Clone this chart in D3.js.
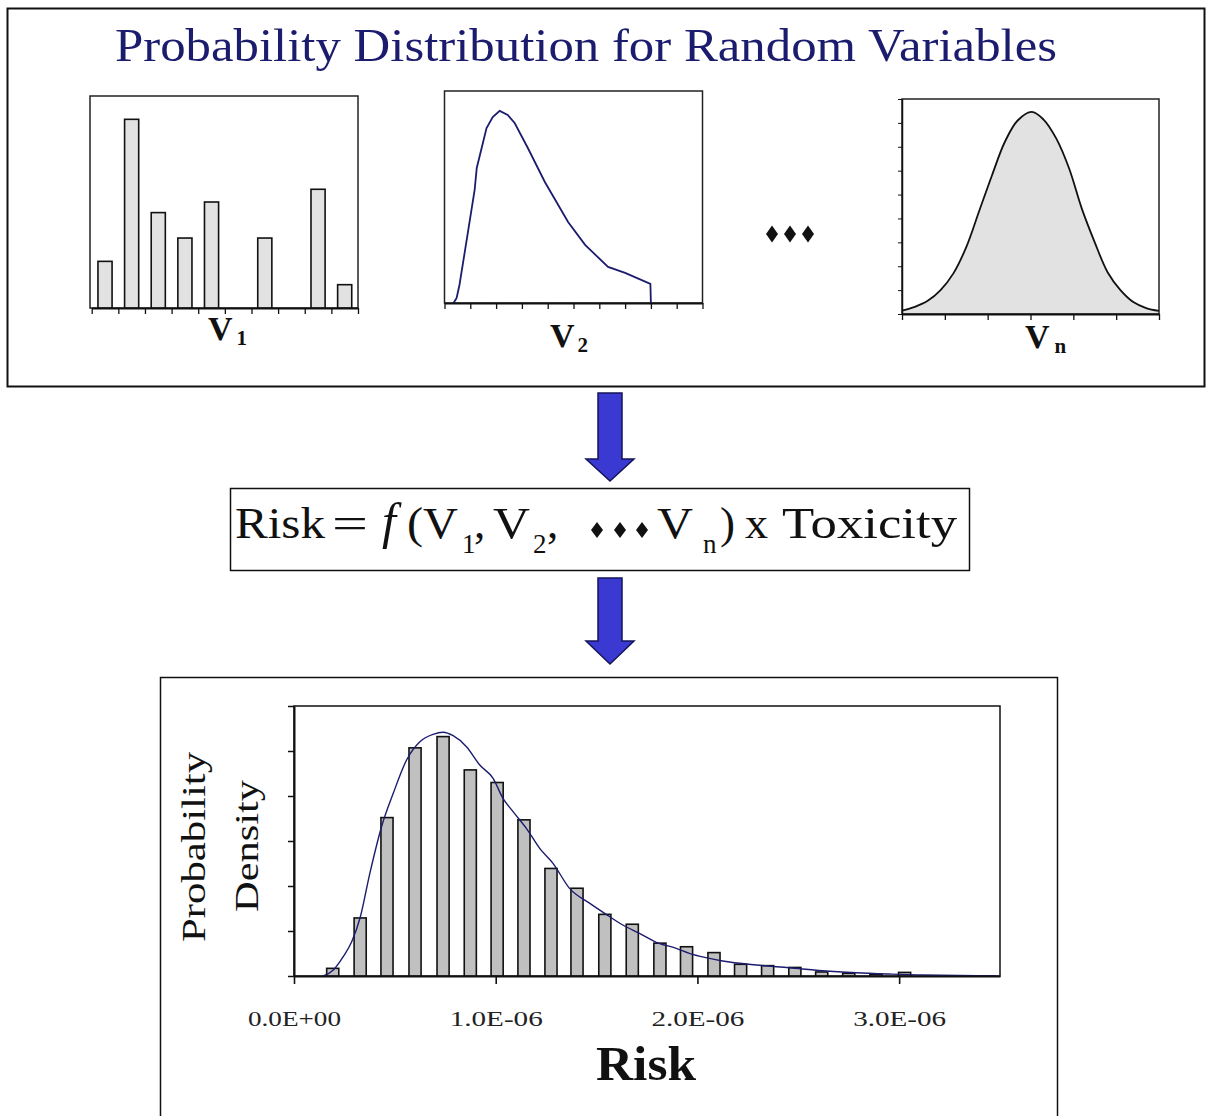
<!DOCTYPE html>
<html><head><meta charset="utf-8">
<script src="https://cdn.jsdelivr.net/npm/d3@7"></script>
<style>body{margin:0;background:#fff}svg{display:block}</style>
</head><body>
<svg id="c" width="1208" height="1116"></svg>
<script>
// ---------------- data ----------------
const titleText = "Probability Distribution for Random Variables";
// V1: discrete distribution
const v1Categories = [1,2,3,4,5,6,7,8,9,10];
const v1Values = [0.22,0.89,0.45,0.33,0.50,0,0.33,0,0.56,0.11];
// V2: skewed continuous distribution
const v2X = [0.35,0.47,0.58,0.89,1.17,1.25,1.44,1.63,1.87,2.14,2.45,2.72,3.23,3.89,4.79,5.45,6.34,7.0,7.98,8.0];
const v2Y = [0,0.024,0.085,0.32,0.535,0.637,0.731,0.825,0.877,0.906,0.887,0.849,0.731,0.571,0.382,0.274,0.17,0.142,0.09,0];
// Vn: normal-like distribution
const vnX = [0,0.3,0.6,0.9,1.2,1.5,1.8,2.1,2.4,2.7,3.03,3.3,3.6,3.9,4.2,4.5,4.8,5.1,5.4,5.7,6.0];
const vnY = [0.14,0.3,0.55,1.0,1.7,2.8,4.3,5.8,7.2,8.1,8.46,8.15,7.35,6.1,4.4,3.0,1.75,1.0,0.5,0.25,0.13];
// Risk histogram (x in units of 1E-06)
const riskBinCenters = [0.192,0.328,0.461,0.600,0.739,0.874,1.007,1.140,1.274,1.403,1.541,1.677,1.814,1.946,2.082,2.214,2.348,2.483,2.616,2.750,2.885,3.027];
const riskDensity   = [0.17,1.29,3.52,5.07,5.32,4.58,4.30,3.47,2.39,1.95,1.37,1.15,0.73,0.65,0.52,0.26,0.23,0.19,0.09,0.06,0.04,0.08];
// fitted density curve
const riskCurveX = [0.145,0.195,0.244,0.286,0.327,0.376,0.434,0.492,0.558,0.624,0.690,0.739,0.789,0.855,0.921,0.987,1.036,1.086,1.152,1.218,1.284,1.366,1.465,1.540,1.630,1.713,1.796,1.895,1.960,2.043,2.125,2.291,2.455,2.620,2.786,2.950,3.115,3.479];
const riskCurveY = [0,0.133,0.429,0.762,1.282,2.282,3.318,4.059,4.8,5.207,5.371,5.416,5.34,5.096,4.689,4.393,3.948,3.652,3.281,2.837,2.504,1.948,1.62,1.393,1.133,0.948,0.749,0.615,0.504,0.407,0.333,0.244,0.184,0.118,0.073,0.044,0.022,0.007];
const riskTickValues = [0,1,2,3];
const riskTickLabels = ["0.0E+00","1.0E-06","2.0E-06","3.0E-06"];
const yLabelLines = ["Probability","Density"];
const xTitle = "Risk";

// ---------------- drawing ----------------
const svg = d3.select("#c");
const SERIF = "'Liberation Serif','DejaVu Serif',serif";
const NAVY = "#1c1c6e";

// outer boxes
svg.append("rect").attr("x",7.5).attr("y",8.5).attr("width",1197).attr("height",378)
  .attr("fill","none").attr("stroke","#111").attr("stroke-width",2);
svg.append("rect").attr("x",160.5).attr("y",677.5).attr("width",897).attr("height",480)
  .attr("fill","none").attr("stroke","#111").attr("stroke-width",1.5);

// title
svg.append("text").attr("x",115).attr("y",61).attr("font-family",SERIF).attr("font-size",46)
  .attr("fill",NAVY).attr("textLength",942).attr("lengthAdjust","spacingAndGlyphs").text(titleText);

function styleAxis(g, w){
  g.selectAll("path.domain").attr("stroke","#111").attr("stroke-width",w||2);
  g.selectAll(".tick line").attr("stroke","#111").attr("stroke-width",1.3);
  g.selectAll(".tick text").remove();
}
function vLabel(x, base, sub, subDx){
  const t = svg.append("text").attr("x",x).attr("y",base).attr("font-family",SERIF)
    .attr("font-weight","bold").attr("font-size",34).attr("fill","#111");
  t.append("tspan").text("V");
  t.append("tspan").attr("dx",subDx).attr("dy",5).attr("font-size",21).text(sub);
}

// ---- V1 ----
{
  const L=91.7,R=358,T=96,B=308;
  const x = d3.scaleBand().domain(v1Categories).range([L,R]).paddingInner(0.47).paddingOuter(0.235);
  const y = d3.scaleLinear().domain([0,1]).range([B,T]);
  svg.append("rect").attr("x",90).attr("y",T).attr("width",R-90).attr("height",B-T)
    .attr("fill","none").attr("stroke","#222").attr("stroke-width",1.5);
  svg.append("g").selectAll("rect").data(v1Values).join("rect")
    .attr("x",(d,i)=>x(v1Categories[i])).attr("width",x.bandwidth())
    .attr("y",d=>y(d)).attr("height",d=>B-y(d))
    .attr("fill",d=>d>0?"#e2e2e2":"none").attr("stroke",d=>d>0?"#111":"none").attr("stroke-width",1.6);
  const xl = d3.scaleLinear().domain([0,10]).range([L,R]);
  const g = svg.append("g").attr("transform",`translate(0,${B})`)
    .call(d3.axisBottom(xl).ticks(10).tickSize(6).tickSizeOuter(0).tickFormat(""));
  styleAxis(g,2);
  vLabel(208,340,"1",4);
}

// ---- V2 ----
{
  const L=444.5,R=702.5,T=91,B=303;
  const x = d3.scaleLinear().domain([0,10]).range([L,R]);
  const y = d3.scaleLinear().domain([0,1]).range([B,T]);
  svg.append("rect").attr("x",L).attr("y",T).attr("width",R-L).attr("height",B-T)
    .attr("fill","none").attr("stroke","#222").attr("stroke-width",1.5);
  const line = d3.line().x((d,i)=>x(v2X[i])).y(d=>y(d));
  svg.append("path").attr("d",line(v2Y)).attr("fill","none").attr("stroke",NAVY).attr("stroke-width",1.8);
  const g = svg.append("g").attr("transform",`translate(0,${B})`)
    .call(d3.axisBottom(x).ticks(10).tickSize(6).tickSizeOuter(0).tickFormat(""));
  styleAxis(g,2);
  vLabel(550,347,"2",3);
}

// ---- Vn ----
{
  const L=902,R=1159,T=99,B=314;
  const x = d3.scaleLinear().domain([0,6]).range([L,R]);
  const y = d3.scaleLinear().domain([0,9]).range([B,T]);
  const pts = vnY.map((d,i)=>[vnX[i],d]);
  const area = d3.area().x(d=>x(d[0])).y0(B).y1(d=>y(d[1])).curve(d3.curveCatmullRom);
  const line = d3.line().x(d=>x(d[0])).y(d=>y(d[1])).curve(d3.curveCatmullRom);
  svg.append("path").attr("d",area(pts)).attr("fill","#e2e2e2");
  svg.append("rect").attr("x",L).attr("y",T).attr("width",R-L).attr("height",B-T)
    .attr("fill","none").attr("stroke","#222").attr("stroke-width",1.5);
  svg.append("path").attr("d",line(pts)).attr("fill","none").attr("stroke","#111").attr("stroke-width",1.8);
  const g = svg.append("g").attr("transform",`translate(0,${B})`)
    .call(d3.axisBottom(x).ticks(6).tickSize(6).tickSizeOuter(0).tickFormat(""));
  styleAxis(g,2);
  const gl = svg.append("g").attr("transform",`translate(${L},0)`)
    .call(d3.axisLeft(y).ticks(9).tickSize(4).tickSizeOuter(0).tickFormat(""));
  styleAxis(gl,1.5);
  gl.selectAll(".tick line").attr("stroke-width",1);
  vLabel(1025,348,"n",5);
}

// diamonds helper
function diamond(cx,cy,w,h){
  return `M${cx},${cy-h/2} L${cx+w/2},${cy} L${cx},${cy+h/2} L${cx-w/2},${cy} Z`;
}
[772,790,808].forEach(cx=>svg.append("path").attr("d",diamond(cx,234,12,17)).attr("fill","#111"));

// arrows
function arrow(cx,top,headTop,tip){
  const sw=12, hw=24;
  return `M${cx-sw},${top} L${cx+sw},${top} L${cx+sw},${headTop} L${cx+hw},${headTop} L${cx},${tip} L${cx-hw},${headTop} L${cx-sw},${headTop} Z`;
}
svg.append("path").attr("d",arrow(610,393,459,481)).attr("fill","#3a3ad2").attr("stroke","#14145a").attr("stroke-width",1.5);
svg.append("path").attr("d",arrow(610,578,641,664)).attr("fill","#3a3ad2").attr("stroke","#14145a").attr("stroke-width",1.5);

// formula box
svg.append("rect").attr("x",230.5).attr("y",488.5).attr("width",739).attr("height",82)
  .attr("fill","none").attr("stroke","#111").attr("stroke-width",1.5);
{
  const base=538, fs=45;
  const pieces = [
    {t:"Risk",x:235,len:90},{t:"=",x:332,len:36},{t:"f",x:382,it:true,fs:50},
    {t:"(V",x:407,len:51},{t:",",x:474},{t:"V",x:493,len:37},{t:",",x:547},
    {t:"V",x:657,len:36},{t:")",x:720},{t:"x",x:745,len:23},{t:"Toxicity",x:782,len:175}
  ];
  pieces.forEach(p=>{
    const t = svg.append("text").attr("x",p.x).attr("y",base).attr("font-family",SERIF)
      .attr("font-size",p.fs||fs).attr("fill","#111").text(p.t);
    if(p.len) t.attr("textLength",p.len).attr("lengthAdjust","spacingAndGlyphs");
    if(p.it) t.attr("font-style","italic");
  });
  [{t:"1",x:462},{t:"2",x:533},{t:"n",x:703}].forEach(s=>{
    svg.append("text").attr("x",s.x).attr("y",553).attr("font-family",SERIF)
      .attr("font-size",27).attr("fill","#111").text(s.t);
  });
  [597,620,642].forEach(cx=>svg.append("path").attr("d",diamond(cx,530,12,16)).attr("fill","#111"));
}

// ---- Risk histogram ----
{
  const L=294,R=1000,T=706,B=976;
  const x = d3.scaleLinear().domain([0,3.5]).range([L,R]);
  const y = d3.scaleLinear().domain([0,6]).range([B,T]);
  const bw = 0.06;
  svg.append("rect").attr("x",L).attr("y",T).attr("width",R-L).attr("height",B-T)
    .attr("fill","none").attr("stroke","#111").attr("stroke-width",1.5);
  svg.append("g").selectAll("rect").data(riskDensity).join("rect")
    .attr("x",(d,i)=>x(riskBinCenters[i]-bw/2)).attr("width",x(bw)-x(0))
    .attr("y",d=>y(d)).attr("height",d=>B-y(d))
    .attr("fill","#c0c0c0").attr("stroke","#111").attr("stroke-width",1.6);
  const line = d3.line().x((d,i)=>x(riskCurveX[i])).y(d=>y(d)).curve(d3.curveMonotoneX);
  svg.append("path").attr("d",line(riskCurveY)).attr("fill","none").attr("stroke",NAVY).attr("stroke-width",1.4);
  const gx = svg.append("g").attr("transform",`translate(0,${B})`)
    .call(d3.axisBottom(x).tickValues(riskTickValues).tickSize(8).tickSizeOuter(0).tickPadding(28)
      .tickFormat((d,i)=>riskTickLabels[i]));
  gx.selectAll("path.domain").attr("stroke","#111").attr("stroke-width",2);
  gx.selectAll(".tick line").attr("stroke","#111").attr("stroke-width",1.6);
  gx.selectAll(".tick text").attr("font-family",SERIF).attr("font-size",20).attr("fill","#222")
    .attr("textLength",93).attr("lengthAdjust","spacingAndGlyphs");
  const gy = svg.append("g").attr("transform",`translate(${L},0)`)
    .call(d3.axisLeft(y).ticks(6).tickSize(6).tickSizeOuter(0).tickFormat(""));
  styleAxis(gy,2);
  gy.selectAll(".tick line").attr("stroke-width",1.5);

  // y label
  [[yLabelLines[0],205,847,190],[yLabelLines[1],258,846,132]].forEach(([t,bx,cy,len])=>{
    svg.append("text").attr("transform",`translate(${bx},${cy}) rotate(-90)`)
      .attr("text-anchor","middle").attr("font-family",SERIF).attr("font-size",33).attr("fill","#111")
      .attr("textLength",len).attr("lengthAdjust","spacingAndGlyphs").text(t);
  });
  svg.append("text").attr("x",646).attr("y",1080).attr("text-anchor","middle")
    .attr("font-family",SERIF).attr("font-weight","bold").attr("font-size",48).attr("fill","#111")
    .attr("textLength",100).attr("lengthAdjust","spacingAndGlyphs").text(xTitle);
}
</script>
</body></html>
